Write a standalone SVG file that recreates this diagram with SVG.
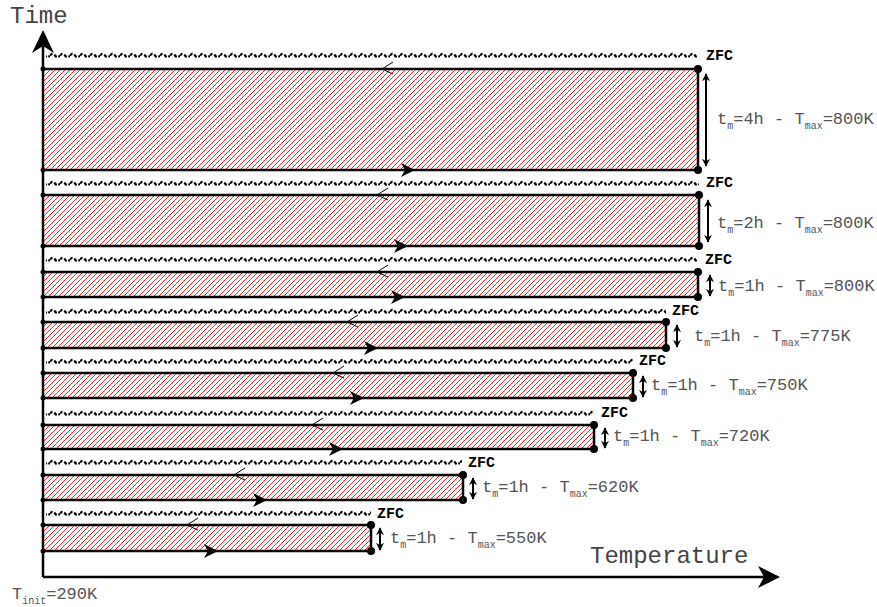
<svg xmlns="http://www.w3.org/2000/svg" xmlns:xlink="http://www.w3.org/1999/xlink" width="877" height="607" viewBox="0 0 877 607">
<style>
.ax{stroke:#000;stroke-width:2.5;fill:none}
.bd{stroke:#000;stroke-width:2.5;fill:none}
.hatch{fill:url(#hatch)}
.lab{font-family:"Liberation Mono","Courier New",monospace;font-size:17px;fill:#555}
.sub{font-size:10px}
.big{font-family:"Liberation Mono","Courier New",monospace;font-size:24px;fill:#444}
.zfc{font-family:"Liberation Mono","Courier New",monospace;font-size:15px;font-weight:bold;fill:#000}
.da{stroke:#000;stroke-width:2;fill:none}
.chev{stroke:#000;stroke-width:1;fill:none}
</style>
<defs>
<pattern id="hatch" patternUnits="userSpaceOnUse" width="5" height="5">
<path d="M-1,1 L1,-1 M0,5 L5,0 M4,6 L6,4" stroke="#f22" stroke-width="1"/>
</pattern>
<pattern id="wave" patternUnits="userSpaceOnUse" x="0" y="-3" width="10" height="6">
<path d="M0,3.5 Q2.5,0.3 5,3.5 T10,3.5" fill="none" stroke="#000" stroke-width="2.2" stroke-dasharray="3 2"/>
</pattern>
<marker id="ah" viewBox="0 0 10 10" refX="9" refY="5" markerWidth="4" markerHeight="4" orient="auto-start-reverse">
<path d="M0,0 L10,5 L0,10 L3,5 Z" fill="#000"/>
</marker>
<path id="fa" d="M0,0 L-14,-7 L-10,0 L-14,7 Z" fill="#000"/>
<path id="ch" d="M11,-7 L0,0 L11,5" class="chev"/>
</defs>

<g id="axes">
<line class="ax" x1="43" y1="577" x2="43" y2="42"/>
<line class="ax" x1="43" y1="577" x2="768" y2="577"/>
<path d="M43,30 L54,53 L43,46 L32,53 Z" fill="#000"/>
<path d="M780,577 L758,566 L764,577 L758,588 Z" fill="#000"/>
<text class="big" x="10" y="23">Time</text>
<text class="big" x="590" y="563">Temperature</text>
<text class="lab" x="12" y="599">T<tspan class="sub" dy="5">init</tspan><tspan dy="-5">=290K</tspan></text>
</g>

<g id="band1">
<rect class="hatch" x="44" y="69" width="654" height="101"/>
<g transform="translate(0,55)"><rect x="46" y="-3" width="652" height="6" fill="url(#wave)"/></g>
<path class="bd" d="M43,69 H698 V170 H43"/>
<circle cx="43" cy="69" r="2.5"/><circle cx="43" cy="170" r="2.5"/>
<circle cx="698" cy="69" r="4"/><circle cx="698" cy="170" r="4"/>
<text class="zfc" x="706" y="60">ZFC</text>
<text class="lab" x="717" y="124">t<tspan class="sub" dy="5">m</tspan><tspan dy="-5">=4h - T</tspan><tspan class="sub" dy="5">max</tspan><tspan dy="-5">=800K</tspan></text>
</g>

<g id="band2">
<rect class="hatch" x="44" y="195" width="655" height="51"/>
<g transform="translate(0,183)"><rect x="46" y="-3" width="653" height="6" fill="url(#wave)"/></g>
<path class="bd" d="M43,195 H699 V246 H43"/>
<circle cx="43" cy="195" r="2.5"/><circle cx="43" cy="246" r="2.5"/>
<circle cx="699" cy="195" r="4"/><circle cx="699" cy="246" r="4"/>
<text class="zfc" x="706" y="187">ZFC</text>
<text class="lab" x="717" y="228">t<tspan class="sub" dy="5">m</tspan><tspan dy="-5">=2h - T</tspan><tspan class="sub" dy="5">max</tspan><tspan dy="-5">=800K</tspan></text>
</g>

<g id="band3">
<rect class="hatch" x="44" y="272" width="654" height="25"/>
<g transform="translate(0,259)"><rect x="46" y="-3" width="652" height="6" fill="url(#wave)"/></g>
<path class="bd" d="M43,272 H698 V297 H43"/>
<circle cx="43" cy="272" r="2.5"/><circle cx="43" cy="297" r="2.5"/>
<circle cx="698" cy="272" r="4"/><circle cx="698" cy="297" r="4"/>
<text class="zfc" x="705" y="264">ZFC</text>
<text class="lab" x="718" y="291">t<tspan class="sub" dy="5">m</tspan><tspan dy="-5">=1h - T</tspan><tspan class="sub" dy="5">max</tspan><tspan dy="-5">=800K</tspan></text>
</g>

<g id="band4">
<rect class="hatch" x="44" y="322" width="622" height="26"/>
<g transform="translate(0,311)"><rect x="46" y="-3" width="620" height="6" fill="url(#wave)"/></g>
<path class="bd" d="M43,322 H666 V348 H43"/>
<circle cx="43" cy="322" r="2.5"/><circle cx="43" cy="348" r="2.5"/>
<circle cx="666" cy="322" r="4"/><circle cx="666" cy="348" r="4"/>
<text class="zfc" x="672" y="315">ZFC</text>
<text class="lab" x="694" y="341">t<tspan class="sub" dy="5">m</tspan><tspan dy="-5">=1h - T</tspan><tspan class="sub" dy="5">max</tspan><tspan dy="-5">=775K</tspan></text>
</g>

<g id="band5">
<rect class="hatch" x="44" y="373" width="589" height="25"/>
<g transform="translate(0,361)"><rect x="46" y="-3" width="587" height="6" fill="url(#wave)"/></g>
<path class="bd" d="M43,373 H633 V398 H43"/>
<circle cx="43" cy="373" r="2.5"/><circle cx="43" cy="398" r="2.5"/>
<circle cx="633" cy="373" r="4"/><circle cx="633" cy="398" r="4"/>
<text class="zfc" x="639" y="365">ZFC</text>
<text class="lab" x="651" y="390">t<tspan class="sub" dy="5">m</tspan><tspan dy="-5">=1h - T</tspan><tspan class="sub" dy="5">max</tspan><tspan dy="-5">=750K</tspan></text>
</g>

<g id="band6">
<rect class="hatch" x="44" y="425" width="550" height="24"/>
<g transform="translate(0,413)"><rect x="46" y="-3" width="548" height="6" fill="url(#wave)"/></g>
<path class="bd" d="M43,425 H594 V449 H43"/>
<circle cx="43" cy="425" r="2.5"/><circle cx="43" cy="449" r="2.5"/>
<circle cx="594" cy="425" r="4"/><circle cx="594" cy="449" r="4"/>
<text class="zfc" x="601" y="417">ZFC</text>
<text class="lab" x="613" y="441">t<tspan class="sub" dy="5">m</tspan><tspan dy="-5">=1h - T</tspan><tspan class="sub" dy="5">max</tspan><tspan dy="-5">=720K</tspan></text>
</g>

<g id="band7">
<rect class="hatch" x="44" y="475" width="419" height="25"/>
<g transform="translate(0,462)"><rect x="46" y="-3" width="416" height="6" fill="url(#wave)"/></g>
<path class="bd" d="M43,475 H463 V500 H43"/>
<circle cx="43" cy="475" r="2.5"/><circle cx="43" cy="500" r="2.5"/>
<circle cx="463" cy="475" r="4"/><circle cx="463" cy="500" r="4"/>
<text class="zfc" x="468" y="467">ZFC</text>
<text class="lab" x="482" y="492">t<tspan class="sub" dy="5">m</tspan><tspan dy="-5">=1h - T</tspan><tspan class="sub" dy="5">max</tspan><tspan dy="-5">=620K</tspan></text>
</g>

<g id="band8">
<rect class="hatch" x="44" y="525" width="327" height="26"/>
<g transform="translate(0,513)"><rect x="46" y="-3" width="325" height="6" fill="url(#wave)"/></g>
<path class="bd" d="M43,525 H371 V551 H43"/>
<circle cx="43" cy="525" r="2.5"/><circle cx="43" cy="551" r="2.5"/>
<circle cx="371" cy="525" r="4"/><circle cx="371" cy="551" r="4"/>
<text class="zfc" x="377" y="518">ZFC</text>
<text class="lab" x="390" y="543">t<tspan class="sub" dy="5">m</tspan><tspan dy="-5">=1h - T</tspan><tspan class="sub" dy="5">max</tspan><tspan dy="-5">=550K</tspan></text>
</g>

<g id="connectors">
<line class="da" x1="706" y1="74" x2="706" y2="166" marker-start="url(#ah)" marker-end="url(#ah)"/>
<line class="da" x1="708" y1="200" x2="708" y2="242" marker-start="url(#ah)" marker-end="url(#ah)"/>
<line class="da" x1="710" y1="275" x2="710" y2="296" marker-start="url(#ah)" marker-end="url(#ah)"/>
<line class="da" x1="677" y1="325" x2="677" y2="347" marker-start="url(#ah)" marker-end="url(#ah)"/>
<line class="da" x1="643" y1="376" x2="643" y2="397" marker-start="url(#ah)" marker-end="url(#ah)"/>
<line class="da" x1="605" y1="428" x2="605" y2="448" marker-start="url(#ah)" marker-end="url(#ah)"/>
<line class="da" x1="473" y1="478" x2="473" y2="499" marker-start="url(#ah)" marker-end="url(#ah)"/>
<line class="da" x1="380" y1="528" x2="380" y2="550" marker-start="url(#ah)" marker-end="url(#ah)"/>
<use xlink:href="#ch" x="382" y="69"/>
<use xlink:href="#ch" x="377" y="195"/>
<use xlink:href="#ch" x="377" y="272"/>
<use xlink:href="#ch" x="347" y="322"/>
<use xlink:href="#ch" x="333" y="373"/>
<use xlink:href="#ch" x="312" y="425"/>
<use xlink:href="#ch" x="234" y="475"/>
<use xlink:href="#ch" x="187" y="525"/>
<use xlink:href="#fa" x="415" y="170"/>
<use xlink:href="#fa" x="408" y="246"/>
<use xlink:href="#fa" x="405" y="297"/>
<use xlink:href="#fa" x="378" y="348"/>
<use xlink:href="#fa" x="364" y="398"/>
<use xlink:href="#fa" x="343" y="449"/>
<use xlink:href="#fa" x="267" y="500"/>
<use xlink:href="#fa" x="218" y="551"/>
</g>
</svg>
